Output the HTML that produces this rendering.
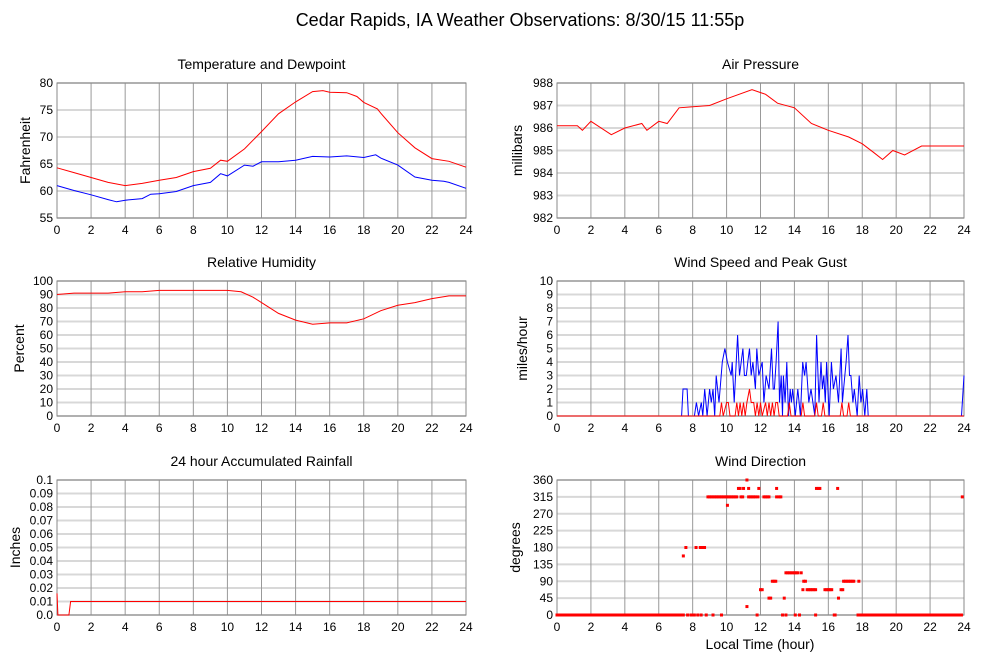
<!DOCTYPE html>
<html><head><meta charset="utf-8"><style>
body{margin:0;background:#fff;}
svg{display:block;font-family:"Liberation Sans",Arial,sans-serif;}
</style></head><body>
<svg id="c" width="999" height="659" viewBox="0 0 999 659" xmlns="http://www.w3.org/2000/svg">
<text x="520" y="26" font-size="18" text-anchor="middle">Cedar Rapids, IA Weather Observations: 8/30/15 11:55p</text>
</svg>
<script>
// ---- data ----
const hourTicks = [0,2,4,6,8,10,12,14,16,18,20,22,24];
const tempTimes = [0,1,2,3,4,5,6,7,8,9,9.6,10,11,12,13,14,15,15.6,16,17,17.6,18,18.8,19,20,21,22,23,24];
const tempVals  = [64.3,63.4,62.5,61.6,61.0,61.4,62.0,62.5,63.6,64.2,65.7,65.5,67.8,71.0,74.3,76.5,78.4,78.6,78.3,78.2,77.5,76.4,75.2,74.4,70.8,68.0,66.0,65.5,64.4];
const dewTimes  = [0,1,2,3,3.5,4,5,5.5,6,7,8,9,9.6,10,11,11.5,12,13,14,15,16,17,18,18.7,19,20,21,22,22.7,23,24];
const dewVals   = [61.0,60.1,59.3,58.4,58.0,58.3,58.6,59.4,59.5,59.9,61.0,61.6,63.2,62.8,64.8,64.6,65.4,65.4,65.7,66.4,66.3,66.5,66.2,66.7,66.1,64.8,62.6,62.0,61.8,61.6,60.5];
const presTimes = [0,1.2,1.5,2,3.2,4,5,5.3,6,6.5,7.2,9,10,11.5,12.3,13,14,15,16,17.2,18,18.7,19.2,19.8,20.5,21.5,23,24];
const presVals  = [986.1,986.1,985.9,986.3,985.7,986.0,986.2,985.9,986.3,986.2,986.9,987.0,987.3,987.7,987.5,987.1,986.9,986.2,985.9,985.6,985.3,984.9,984.6,985.0,984.8,985.2,985.2,985.2];
const rhTimes = [0,1,3,4,5,6,7,8,9,10,10.8,11.5,12,13,14,15,16,17,18,19,20,21,22,23,24];
const rhVals  = [90,91,91,92,92,93,93,93,93,93,92,88,84,76,71,68,69,69,72,78,82,84,87,89,89];
const gustTimes = [0,7.35,7.43,7.67,7.75,8.1,8.22,8.35,8.51,8.6,8.71,8.85,9.0,9.1,9.2,9.3,9.39,9.55,9.75,9.9,10.05,10.27,10.33,10.45,10.65,10.76,10.96,11.05,11.16,11.25,11.35,11.45,11.55,11.7,11.78,11.9,12.1,12.2,12.33,12.5,12.65,12.75,12.82,12.92,13.04,13.12,13.22,13.3,13.35,13.45,13.55,13.65,13.75,13.82,13.9,14.05,14.2,14.35,14.49,14.6,14.69,14.85,14.98,15.2,15.31,15.45,15.57,15.65,15.73,15.82,15.9,16.05,16.18,16.3,16.45,16.6,16.75,16.83,16.9,17.05,17.16,17.25,17.33,17.45,17.53,17.7,17.82,17.92,18.02,18.15,18.27,18.35,23.85,24];
const gustVals  = [0,0,2,2,0,0,1,0,1,0,2,0,2,1,2,0,3,1,4,5,4,3,4,1,6,3,5,3,3,4,5,3,4,2,5,3,4,1,3,2,5,2,2,4,7,1,3,0,3,1,4,0,2,1,2,0,2,0,4,3,4,1,2,0,6,1,4,2,3,1,4,0,4,2,3,1,5,1,2,4,6,3,3,1,2,0,3,1,2,0,2,0,0,3];
const speedTimes = [0,9.6,9.7,9.8,10.0,10.1,10.2,10.5,10.6,10.7,10.8,10.9,11.0,11.1,11.2,11.35,11.45,11.6,11.7,11.8,11.9,12.0,12.1,12.3,12.4,12.5,12.6,12.7,12.8,12.9,13.0,13.1,13.2,13.6,13.7,13.8,14.4,14.5,14.6,15.2,15.3,15.4,15.6,15.7,15.8,16.7,16.8,16.9,17.1,17.2,17.3,24];
const speedVals  = [0,0,1,0,1,1,0,0,1,0,1,0,1,0,1,2,1,1,0,1,0,1,0,1,0,1,0,1,0,1,1,0,0,0,1,0,0,1,0,0,1,0,0,1,0,0,1,0,0,1,0,0];
const rainTimes = [0,0.05,0.7,0.8,24];
const rainVals  = [0.016,0,0,0.01,0.01];
const dirTimes = [8.9,9.0,9.1,9.2,9.3,9.4,9.5,9.6,9.7,9.8,9.9,10.0,10.1,10.2,10.3,10.4,10.5,10.6,10.85,10.95,11.3,11.4,11.5,11.6,11.7,11.85,12.2,12.3,12.4,12.5,12.95,13.1,13.2,23.9,
 10.7,10.8,11.0,11.3,11.9,12.95,15.3,15.4,15.5,16.55,11.2,10.05,7.6,8.2,8.45,8.6,8.7,7.45,
 13.5,13.6,13.7,13.8,13.9,14.0,14.1,14.2,14.4,12.7,12.8,12.9,14.55,14.65,16.9,17.0,17.1,17.2,17.3,17.4,17.5,17.8,
 12.0,12.1,14.5,14.75,14.85,14.95,15.05,15.15,15.25,15.8,15.9,16.0,16.1,16.2,16.75,16.85,12.5,12.6,13.4,16.6,11.2];
const dirVals = [315,315,315,315,315,315,315,315,315,315,315,315,315,315,315,315,315,315,315,315,315,315,315,315,315,315,315,315,315,315,315,315,315,315,
 337.5,337.5,337.5,337.5,337.5,337.5,337.5,337.5,337.5,337.5,360,292.5,180,180,180,180,180,157.5,
 112.5,112.5,112.5,112.5,112.5,112.5,112.5,112.5,112.5,90,90,90,90,90,90,90,90,90,90,90,90,90,
 67.5,67.5,67.5,67.5,67.5,67.5,67.5,67.5,67.5,67.5,67.5,67.5,67.5,67.5,67.5,67.5,45,45,45,45,22.5];
const calmRanges = [[0,7.45],[18.0,23.85]];
const calmTimes = [7.7,7.9,8.0,8.1,8.3,8.5,8.8,9.2,9.7,11.8,13.3,13.5,14.05,14.3,15.25,16.35,16.4,17.75,17.85];

// ---- drawing ----
const svg = document.getElementById('c');
const NS = 'http://www.w3.org/2000/svg';
function mk(tag, attrs, parent){const e=document.createElementNS(NS,tag);for(const k in attrs)e.setAttribute(k,attrs[k]);(parent||svg).appendChild(e);return e;}

function panel(p){
  const g = mk('g',{});
  
  
  const xs = h => p.x0 + (h/24)*(p.x1-p.x0);
  const ys = v => p.y1 - (v-p.ymin)/(p.ymax-p.ymin)*(p.y1-p.y0);
  p.yticks.forEach((v,i)=>{
    const y = ys(v);
    const l = mk('line',{x1:p.x0,x2:p.x1,y1:y,y2:y,stroke:'#d8d8d8','stroke-width':2},g);
    
    
    const t = mk('text',{x:p.x0-4,y:y+4,'font-size':12,'text-anchor':'end'},g);
    t.textContent = p.ylabels[i];
    
    
  });
  hourTicks.forEach(h=>{
    const x = xs(h);
    const l = mk('line',{x1:x,x2:x,y1:p.y0,y2:p.y1,stroke:'#999','stroke-width':1},g);
    
    
    const t = mk('text',{x:x,y:p.y1+16,'font-size':12,'text-anchor':'middle'},g);
    t.textContent = h;
    
    
  });
  const b = mk('rect',{x:p.x0,y:p.y0,width:p.x1-p.x0,height:p.y1-p.y0,fill:'none',stroke:'#888','stroke-width':1},g);
  
  
  const tt = mk('text',{x:(p.x0+p.x1)/2,y:p.y0-14,'font-size':14,'text-anchor':'middle'},g);
  tt.textContent = p.title;
  
  
  const yt = mk('text',{x:p.ytx,y:(p.y0+p.y1)/2,'font-size':14,'text-anchor':'middle',transform:`rotate(-90 ${p.ytx} ${(p.y0+p.y1)/2})`},g);
  yt.textContent = p.ytitle;
  
  
  (p.series||[]).forEach(s=>{
    const d = s.t.map((h,i)=>(i?'L':'M')+xs(h).toFixed(1)+' '+ys(s.v[i]).toFixed(1)).join(' ');
    const pa = mk('path',{d:d,fill:'none',stroke:s.c,'stroke-width':1},g);
    
    
  });
  return {g,xs,ys};
}

const hr=[]; for(let i=0;i<=24;i+=2)hr.push(i);
panel({name:'temperature-panel',title:'Temperature and Dewpoint',ytitle:'Fahrenheit',ytx:30,x0:57,x1:466,y0:83,y1:218,ymin:55,ymax:80,
  yticks:[55,60,65,70,75,80],ylabels:['55','60','65','70','75','80'],
  series:[{name:'temperature-line',t:tempTimes,v:tempVals,c:'#ff0000'},{name:'dewpoint-line',t:dewTimes,v:dewVals,c:'#0000ff'}]});
panel({name:'pressure-panel',title:'Air Pressure',ytitle:'millibars',ytx:522,x0:557,x1:964,y0:83,y1:218,ymin:982,ymax:988,
  yticks:[982,983,984,985,986,987,988],ylabels:['982','983','984','985','986','987','988'],
  series:[{name:'pressure-line',t:presTimes,v:presVals,c:'#ff0000'}]});
panel({name:'humidity-panel',title:'Relative Humidity',ytitle:'Percent',ytx:24,x0:57,x1:466,y0:281,y1:416,ymin:0,ymax:100,
  yticks:[0,10,20,30,40,50,60,70,80,90,100],ylabels:['0','10','20','30','40','50','60','70','80','90','100'],
  series:[{name:'humidity-line',t:rhTimes,v:rhVals,c:'#ff0000'}]});
panel({name:'wind-speed-panel',title:'Wind Speed and Peak Gust',ytitle:'miles/hour',ytx:527,x0:557,x1:964,y0:281,y1:416,ymin:0,ymax:10,
  yticks:[0,1,2,3,4,5,6,7,8,9,10],ylabels:['0','1','2','3','4','5','6','7','8','9','10'],
  series:[{name:'gust-line',t:gustTimes,v:gustVals,c:'#0000ff'},{name:'speed-line',t:speedTimes,v:speedVals,c:'#ff0000'}]});
panel({name:'rainfall-panel',title:'24 hour Accumulated Rainfall',ytitle:'Inches',ytx:20,x0:57,x1:466,y0:480,y1:615,ymin:0,ymax:0.1,
  yticks:[0,0.01,0.02,0.03,0.04,0.05,0.06,0.07,0.08,0.09,0.1],ylabels:['0.0','0.01','0.02','0.03','0.04','0.05','0.06','0.07','0.08','0.09','0.1'],
  series:[{name:'rainfall-line',t:rainTimes,v:rainVals,c:'#ff0000'}]});
const dp = panel({name:'wind-direction-panel',title:'Wind Direction',ytitle:'degrees',ytx:520,x0:557,x1:964,y0:480,y1:615,ymin:0,ymax:360,
  yticks:[0,45,90,135,180,225,270,315,360],ylabels:['0','45','90','135','180','225','270','315','360'],series:[]});
function dot(h,v){
  const r = mk('rect',{x:dp.xs(h)-1.5,y:dp.ys(v)-1.5,width:3,height:3,fill:'#ff0000'},dp.g);
  
  
}
calmRanges.forEach(([a,b])=>{
  const r = mk('rect',{x:dp.xs(a)-1.5,y:dp.ys(0)-1.5,width:dp.xs(b)-dp.xs(a)+3,height:3,fill:'#ff0000'},dp.g);
  
  
});
calmTimes.forEach(h=>dot(h,0));
dirTimes.forEach((h,i)=>dot(h,dirVals[i]));
const xl = mk('text',{x:760,y:649,'font-size':14,'text-anchor':'middle'});
xl.textContent = 'Local Time (hour)';


</script>
</body></html>
